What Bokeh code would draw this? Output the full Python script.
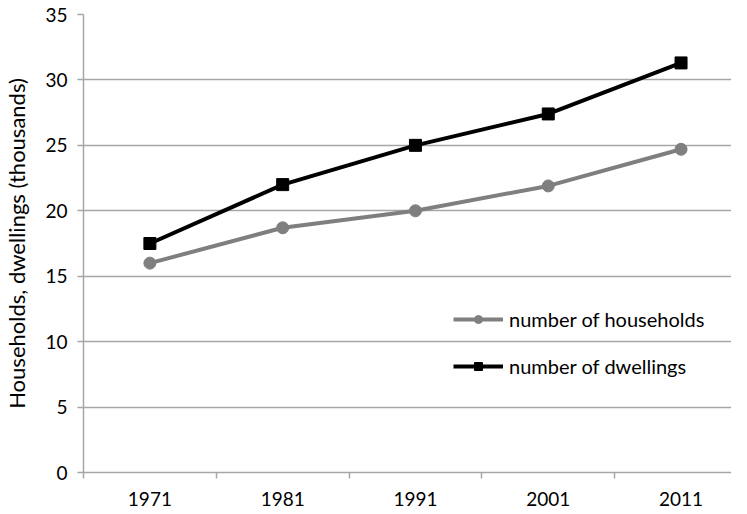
from bokeh.plotting import figure
from bokeh.models import Range1d, FixedTicker, Legend, LegendItem
from bokeh.embed import file_html
from bokeh.resources import INLINE

years = ["1971", "1981", "1991", "2001", "2011"]
households = [16.0, 18.7, 20.0, 21.9, 24.7]
dwellings = [17.5, 22.0, 25.0, 27.4, 31.3]
y_ticks = [0, 5, 10, 15, 20, 25, 30, 35]

FONT = "Lato"
GRID = "#a6a6a6"

xs = list(range(len(years)))

p = figure(width=731, height=512, output_backend="svg", toolbar_location=None,
           x_range=Range1d(-0.5, 4.38), y_range=Range1d(0, 35),
           min_border_left=77, min_border_right=0, min_border_top=14, min_border_bottom=40)
p.outline_line_color = None
p.background_fill_color = "white"

p.xgrid.visible = False
p.ygrid.grid_line_color = GRID
p.ygrid.grid_line_width = 1.5
p.ygrid.ticker = FixedTicker(ticks=y_ticks)

p.yaxis.ticker = FixedTicker(ticks=y_ticks)
p.yaxis.axis_line_color = GRID
p.yaxis.axis_line_width = 1.5
p.yaxis.major_tick_line_color = GRID
p.yaxis.major_tick_line_width = 1.5
p.yaxis.major_tick_out = 6
p.yaxis.major_tick_in = 0
p.yaxis.minor_tick_line_color = None
p.yaxis.major_label_text_font = FONT
p.yaxis.major_label_text_font_size = "19px"
p.yaxis.major_label_text_color = "black"
p.yaxis.major_label_standoff = 10
p.yaxis.axis_label = "Households, dwellings (thousands)"
p.yaxis.axis_label_text_font = FONT
p.yaxis.axis_label_text_font_size = "22px"
p.yaxis.axis_label_text_font_style = "normal"
p.yaxis.axis_label_text_color = "black"
p.yaxis.axis_label_standoff = 12

p.xaxis.ticker = FixedTicker(ticks=xs, minor_ticks=[-0.5, 0.5, 1.5, 2.5, 3.5, 4.5])
p.xaxis.major_label_overrides = {i: y for i, y in enumerate(years)}
p.xaxis.axis_line_color = GRID
p.xaxis.axis_line_width = 1.5
p.xaxis.major_tick_line_color = None
p.xaxis.minor_tick_line_color = GRID
p.xaxis.minor_tick_line_width = 1.5
p.xaxis.minor_tick_out = 6
p.xaxis.minor_tick_in = 0
p.xaxis.major_label_text_font = FONT
p.xaxis.major_label_text_font_size = "19px"
p.xaxis.major_label_text_color = "black"
p.xaxis.major_label_standoff = 13

h_line = p.line(xs, households, line_color="#7f7f7f", line_width=4)
h_mark = p.scatter(xs, households, marker="circle", size=12, fill_color="#7f7f7f", line_color="#7f7f7f")
d_line = p.line(xs, dwellings, line_color="black", line_width=4)
d_mark = p.scatter(xs, dwellings, marker="square", size=12, fill_color="black", line_color="black")

legend = Legend(items=[
    LegendItem(label="number of households", renderers=[h_line, h_mark]),
    LegendItem(label="number of dwellings", renderers=[d_line, d_mark]),
], location=(370, 94))
legend.background_fill_alpha = 0
legend.border_line_color = None
legend.padding = 0
legend.margin = 0
legend.spacing = 23
legend.glyph_width = 50
legend.glyph_height = 20
legend.label_height = 20
legend.label_standoff = 6
legend.label_text_font = FONT
legend.label_text_font_size = "20px"
legend.label_text_color = "black"
p.add_layout(legend)

open("out.html", "w").write(file_html(p, INLINE))
